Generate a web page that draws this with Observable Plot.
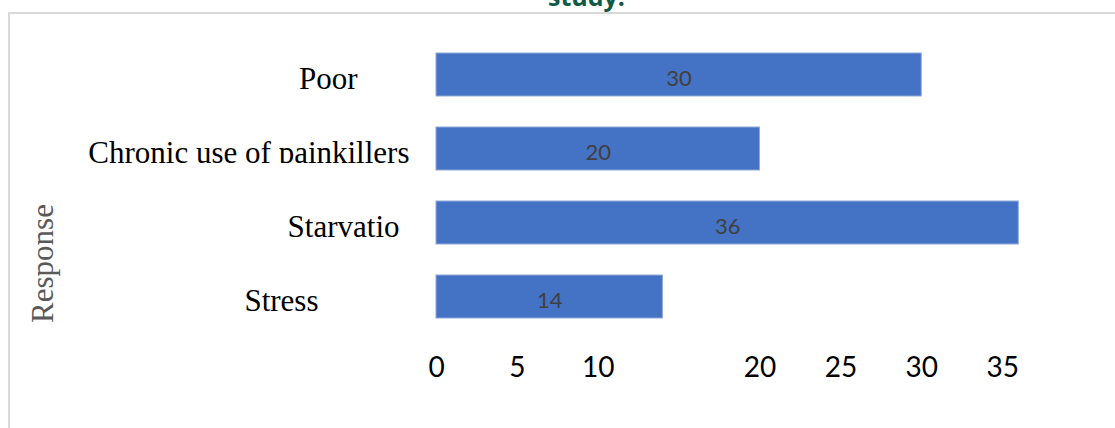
<!DOCTYPE html>
<html>
<head>
<meta charset="utf-8">
<script src="https://cdn.jsdelivr.net/npm/d3@7"></script>
<script src="https://cdn.jsdelivr.net/npm/@observablehq/plot@0.6"></script>
<style>
  html, body { margin: 0; padding: 0; background: #fff; overflow: hidden; }
  #page { position: relative; width: 1115px; height: 428px; overflow: hidden; }
  #title {
    position: absolute; top: -18px; left: 29px; width: 1115px;
    text-align: center; font: bold 25px "Open Sans", sans-serif;
    line-height: 28px; color: #0d5a47; white-space: nowrap;
  }
  #frame {
    position: absolute; left: 8px; top: 12px; right: -4px; bottom: -4px;
    border-top: 2px solid #d9d9d9; border-left: 2px solid #d9d9d9;
  }
  #chart { position: absolute; left: 0; top: 0; }
  #chart svg [aria-label="x-axis tick label"] text {
    font-family: Lato, "Open Sans", sans-serif; font-size: 28px; fill: #000;
  }
  #chart svg [aria-label="y-axis label"] text {
    font-family: "Liberation Serif", "Times New Roman", serif; font-size: 31px; fill: #595959;
  }
</style>
</head>
<body>
<div id="page">
  <div id="title">study.</div>
  <div id="frame"></div>
  <div id="chart"></div>
</div>
<script>
// Reasons given by respondents and how many gave each
const categories = ["Poor", "Chronic use of painkillers", "Starvatio", "Stress"];
const counts = [30, 20, 36, 14];
const xTicks = [0, 5, 10, 20, 25, 30, 35];
const axisTitle = "Response";

const rows = categories.map((c, i) => ({category: c, count: counts[i]}));

// right edge of each category label, in pixels from the left of the chart
const labelRight = [357, 409, 399, 318];
const left = 436;

const barColor = "#4472c4";

const chart = Plot.plot({
  width: 1115,
  height: 428,
  marginLeft: left,
  marginRight: 32,
  marginTop: 186,
  marginBottom: 88,
  style: {background: "transparent", overflow: "visible"},
  x: {domain: [0, 40], range: [left, 1083], label: null},
  y: {domain: categories, range: [21, 349], padding: 0.42, label: axisTitle},
  marks: [
    Plot.barX(rows, {
      x: "count", y: "category", fill: barColor,
      stroke: "#8faadc", strokeWidth: 1
    }),
    Plot.text(rows, {
      x: d => d.count / 2, y: "category", text: d => String(d.count),
      dy: 3.5, fontSize: 22, fill: "#404040",
      fontFamily: "Lato, 'Open Sans', sans-serif"
    }),
    ...categories.map((c, i) => Plot.text([c], {
      y: d => d, text: d => d, frameAnchor: "left", textAnchor: "end",
      dx: labelRight[i] - left, dy: 4, fontSize: 31, fill: "#000",
      fontFamily: "'Liberation Serif', 'Times New Roman', serif"
    })),
    Plot.axisX({ticks: xTicks, tickSize: 0, tickPadding: 17, tickFormat: d => String(d), label: null}),
    Plot.axisY({ticks: [], tickSize: 0, label: axisTitle, labelAnchor: "center", labelArrow: "none", labelOffset: 406})
  ]
});

document.getElementById("chart").appendChild(chart);

// trim the category names at their baseline (descenders are cut off)
const svg = d3.select(chart);
const defs = svg.append("defs");
svg.selectAll("text")
  .filter(function () { return categories.includes(this.textContent); })
  .each(function (d, i) {
    const box = this.getBBox();
    const id = "cat-clip-" + i;
    defs.append("clipPath")
        .attr("id", id)
        .attr("clipPathUnits", "objectBoundingBox")
      .append("rect")
        .attr("x", 0).attr("y", 0).attr("width", 1)
        .attr("height", (box.height - 7) / box.height);
    d3.select(this).attr("clip-path", `url(#${id})`);
  });
</script>
</body>
</html>
